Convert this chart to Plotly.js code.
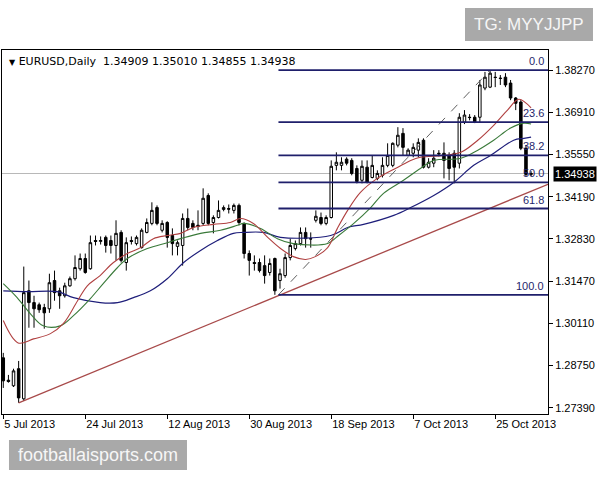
<!DOCTYPE html>
<html><head><meta charset="utf-8">
<script src="https://cdn.plot.ly/plotly-3.0.1.min.js"></script>
<style>html,body{margin:0;padding:0;background:#fff}#chart{width:600px;height:480px}</style>
</head><body><div id="chart"></div>
<script>
// ---- data ----
const openP  = [1.2900,1.2828,1.2810,1.2865,1.2768,1.3116,1.3078,1.3071,1.3062,1.3058,1.3149,1.3116,1.3100,1.3132,1.3155,1.3187,1.3220,1.3187,1.3278,1.3275,1.3288,1.3278,1.3262,1.3304,1.3207,1.3278,1.3268,1.3255,1.3304,1.3333,1.3384,1.3311,1.3336,1.3294,1.3259,1.3262,1.3349,1.3333,1.3327,1.3333,1.3423,1.3336,1.3352,1.3378,1.3381,1.3375,1.3391,1.3333,1.3236,1.3207,1.3207,1.3197,1.3175,1.3220,1.3149,1.3165,1.3223,1.3252,1.3268,1.3304,1.3284,1.3343,1.3352,1.3333,1.3352,1.3520,1.3520,1.3540,1.3536,1.3510,1.3472,1.3514,1.3481,1.3478,1.3488,1.3520,1.3520,1.3585,1.3623,1.3552,1.3559,1.3569,1.3601,1.3514,1.3527,1.3559,1.3559,1.3552,1.3559,1.3527,1.3659,1.3675,1.3675,1.3675,1.3769,1.3772,1.3804,1.3801,1.3804,1.3785,1.3737,1.3724,1.3575,1.34909];
const highP  = [1.2916,1.2845,1.2865,1.2890,1.3194,1.3149,1.3100,1.3078,1.3074,1.3171,1.3181,1.3126,1.3142,1.3162,1.3230,1.3236,1.3236,1.3294,1.3294,1.3291,1.3294,1.3294,1.3343,1.3311,1.3288,1.3291,1.3294,1.3317,1.3349,1.3401,1.3391,1.3343,1.3340,1.3317,1.3278,1.3365,1.3381,1.3343,1.3375,1.3446,1.3430,1.3359,1.3407,1.3391,1.3394,1.3397,1.3397,1.3336,1.3246,1.3230,1.3220,1.3230,1.3220,1.3223,1.3187,1.3236,1.3284,1.3278,1.3320,1.3320,1.3304,1.3375,1.3368,1.3359,1.3536,1.3562,1.3546,1.3546,1.3543,1.3520,1.3536,1.3536,1.3552,1.3504,1.3546,1.3591,1.3594,1.3643,1.3640,1.3575,1.3591,1.3607,1.3607,1.3543,1.3569,1.3569,1.3594,1.3562,1.3569,1.3688,1.3698,1.3685,1.3682,1.3795,1.3821,1.3827,1.3821,1.3811,1.3817,1.3795,1.3740,1.3730,1.3585,1.35010];
const lowP   = [1.2803,1.2820,1.2806,1.2755,1.2761,1.2997,1.2997,1.3045,1.2994,1.3045,1.3084,1.3058,1.3094,1.3129,1.3149,1.3181,1.3171,1.3184,1.3262,1.3265,1.3239,1.3236,1.3214,1.3207,1.3181,1.3265,1.3262,1.3252,1.3301,1.3327,1.3327,1.3304,1.3255,1.3230,1.3230,1.3197,1.3311,1.3311,1.3311,1.3327,1.3327,1.3301,1.3349,1.3372,1.3365,1.3365,1.3327,1.3220,1.3165,1.3181,1.3175,1.3139,1.3165,1.3103,1.3123,1.3158,1.3214,1.3246,1.3262,1.3255,1.3255,1.3336,1.3327,1.3327,1.3349,1.3504,1.3504,1.3520,1.3488,1.3462,1.3462,1.3462,1.3478,1.3472,1.3481,1.3514,1.3514,1.3578,1.3552,1.3549,1.3546,1.3546,1.3510,1.3510,1.3514,1.3549,1.3478,1.3472,1.3462,1.3510,1.3653,1.3665,1.3656,1.3659,1.3762,1.3769,1.3772,1.3779,1.3772,1.3730,1.3698,1.3569,1.3485,1.34855];
const closeP = [1.2826,1.2824,1.2858,1.2771,1.3110,1.3078,1.3058,1.3055,1.3045,1.3142,1.3110,1.3100,1.3132,1.3155,1.3191,1.3220,1.3175,1.3271,1.3275,1.3278,1.3262,1.3262,1.3301,1.3214,1.3271,1.3275,1.3288,1.3311,1.3336,1.3375,1.3333,1.3333,1.3288,1.3268,1.3271,1.3349,1.3320,1.3320,1.3323,1.3414,1.3333,1.3352,1.3375,1.3384,1.3379,1.3391,1.3336,1.3236,1.3214,1.3204,1.3181,1.3165,1.3204,1.3116,1.3171,1.3223,1.3262,1.3268,1.3304,1.3284,1.3283,1.3356,1.3333,1.3352,1.3517,1.3530,1.3530,1.3527,1.3494,1.3468,1.3517,1.3465,1.3520,1.3494,1.3520,1.3552,1.3591,1.3617,1.3578,1.3569,1.3578,1.3594,1.3514,1.3530,1.3543,1.3557,1.3536,1.3510,1.3514,1.3675,1.3682,1.3674,1.3659,1.3779,1.3804,1.3817,1.3803,1.3800,1.3779,1.3737,1.3720,1.3575,1.34909,1.34938];

const tickIdx    = [0, 16, 32, 48, 64, 80, 96];
const tickLabels = ['5 Jul 2013','24 Jul 2013','12 Aug 2013','30 Aug 2013','18 Sep 2013','7 Oct 2013','25 Oct 2013'];
const yTicks     = [1.38270,1.36910,1.35550,1.34190,1.32830,1.31470,1.30110,1.28750,1.27390];

const maRedX = [0,2.9,5.9,9.2,11.7,14.5,16.4,18.9,21.5,24.2,26.8,29.3,32.0,34.6,37.1,41.0,44.3,46.3,48.8,51.6,54.1,56.6,59.0,60.9,63.3,65.2,67.2,69.7,73.0,77.0,79.5,81.4,85.9,89.3,92.6,95.7,98.4,100.6,103];
const maRedY = [1.3020,1.2948,1.2961,1.2978,1.3010,1.3084,1.3132,1.3165,1.3207,1.3236,1.3255,1.3284,1.3294,1.3301,1.3320,1.3330,1.3336,1.3349,1.3333,1.3288,1.3252,1.3226,1.3217,1.3226,1.3255,1.3317,1.3375,1.3433,1.3478,1.3514,1.3536,1.3546,1.3552,1.3562,1.3601,1.3649,1.3698,1.3733,1.3705];
const maGreenX = [0,2.7,5.3,7.8,11.1,13.7,17.0,19.5,22.3,24.2,28.1,32.0,34.6,38.5,42.4,45.7,46.9,50.2,53.5,56.6,63.3,65.2,68.4,71.7,74.2,78.1,81.4,84.0,89.3,92.6,95.7,99.0,101.6,103];
const maGreenY = [1.3139,1.3094,1.3042,1.3003,1.3003,1.3036,1.3091,1.3139,1.3191,1.3220,1.3252,1.3271,1.3284,1.3301,1.3311,1.3327,1.3333,1.3317,1.3284,1.3268,1.3268,1.3291,1.3333,1.3384,1.3430,1.3472,1.3510,1.3536,1.3543,1.3569,1.3601,1.3640,1.3656,1.3653];
const maBlueX = [0,4.7,10.5,13.7,18.9,22.3,25.4,28.7,32.0,35.2,38.5,41.8,44.9,46.9,50.8,54.1,63.9,67.2,70.3,76.2,79.5,84.0,87.9,91.8,95.1,99.6,101.6,103];
const maBlueY = [1.3116,1.3113,1.3113,1.3094,1.3078,1.3078,1.3094,1.3116,1.3155,1.3207,1.3246,1.3278,1.3301,1.3304,1.3304,1.3288,1.3294,1.3320,1.3330,1.3359,1.3384,1.3423,1.3465,1.3520,1.3552,1.3601,1.3607,1.3611];

const trendX = [3, 106.3];
const trendY = [1.2755, 1.3459];
const fibAnchorX = [53.7, 95];
const fibAnchorY = [1.3103, 1.3827];
const fibLevels = ['0.0','23.6','38.2','50.0','61.8','100.0'];
const fibPrices = [1.3827, 1.3659, 1.3552, 1.3465, 1.3381, 1.3103];
const headerText = 'EURUSD,Daily  1.34909 1.35010 1.34855 1.34938';

// ---- chart ----
const xIdx = openP.map((_, i) => i);
const lastClose = closeP[closeP.length - 1];
const X0 = -0.25, X1 = 106.3;
const FIBC = '#1f1f6b';

const traces = [
  {type:'candlestick', x:xIdx, open:openP, high:highP, low:lowP, close:closeP,
   increasing:{line:{color:'#000', width:1}, fillcolor:'#fff'},
   decreasing:{line:{color:'#000', width:1}, fillcolor:'#000'},
   whiskerwidth:0, hoverinfo:'skip', showlegend:false},
  {type:'scatter', mode:'lines', x:maBlueX, y:maBlueY, line:{color:'#1e1e7a', width:1.2, shape:'spline'}, hoverinfo:'skip'},
  {type:'scatter', mode:'lines', x:maGreenX, y:maGreenY, line:{color:'#3a7a3a', width:1.1, shape:'spline'}, hoverinfo:'skip'},
  {type:'scatter', mode:'lines', x:maRedX, y:maRedY, line:{color:'#b04040', width:1.1, shape:'spline'}, hoverinfo:'skip'},
  {type:'scatter', mode:'lines', x:trendX, y:trendY, line:{color:'#a84a4a', width:1.3}, hoverinfo:'skip'},
  {type:'scatter', mode:'lines', x:fibAnchorX, y:fibAnchorY, line:{color:'#606060', width:1, dash:'dash'}, hoverinfo:'skip'}
];

const shapes = [
  {type:'line', xref:'x', yref:'y', x0:X0, x1:X1, y0:lastClose, y1:lastClose, line:{color:'#b8b8b8', width:1}, layer:'below'}
];
fibPrices.forEach(p => shapes.push({type:'line', xref:'x', yref:'y', x0:fibAnchorX[0], x1:X1, y0:p, y1:p, line:{color:FIBC, width:1.8}}));
shapes.push({type:'rect', xref:'paper', yref:'paper', x0:0.848, x1:1.0824, y0:1.0247, y1:1.1154, fillcolor:'#a9a9a9', line:{width:0}});
shapes.push({type:'rect', xref:'paper', yref:'paper', x0:0.0128, x1:0.3388, y0:-0.1538, y1:-0.0714, fillcolor:'#a9a9a9', line:{width:0}});

const annotations = [
  {xref:'paper', yref:'paper', x:0, y:1, xshift:5, yshift:-3, xanchor:'left', yanchor:'top', showarrow:false,
   text:'<span style="font-size:8px">▼</span> ' + headerText, font:{family:'DejaVu Sans', size:11, color:'#000'}},
  {xref:'paper', yref:'y', x:1, y:lastClose, xshift:5, xanchor:'left', yanchor:'middle', showarrow:false,
   text:lastClose.toFixed(5), bgcolor:'#000', borderpad:1, font:{family:'Liberation Sans', size:11, color:'#fff'}},
  {xref:'paper', yref:'paper', x:0.9652, y:1.0687, showarrow:false, xanchor:'center', yanchor:'middle',
   text:'TG: MYYJJPP', font:{family:'Liberation Sans', size:17, color:'#f6f6f6'}},
  {xref:'paper', yref:'paper', x:0.1758, y:-0.1126, showarrow:false, xanchor:'center', yanchor:'middle',
   text:'footballaisports.com', font:{family:'Liberation Sans', size:18, color:'#f6f6f6'}}
];
fibLevels.forEach((t, k) => annotations.push({xref:'paper', yref:'y', x:1, y:fibPrices[k], xshift:-2, yshift:1,
  xanchor:'right', yanchor:'bottom', showarrow:false, text:t, font:{family:'Liberation Sans', size:11, color:FIBC}}));

const layout = {
  width:600, height:480, margin:{l:2, r:52, t:50, b:66},
  paper_bgcolor:'#fff', plot_bgcolor:'#fff', showlegend:false, hovermode:false,
  xaxis:{range:[X0, X1], showgrid:false, zeroline:false, showline:true, mirror:true, linecolor:'#000', linewidth:1,
         ticks:'outside', ticklen:4, tickcolor:'#000', tickvals:tickIdx, ticktext:tickLabels,
         ticklabelposition:'outside right', tickfont:{family:'Liberation Sans', size:11, color:'#000'},
         rangeslider:{visible:false}, fixedrange:true},
  yaxis:{side:'right', range:[1.27191, 1.38916], showgrid:false, zeroline:false, showline:true, mirror:true,
         linecolor:'#000', linewidth:1, ticks:'outside', ticklen:4, tickcolor:'#000',
         tickvals:yTicks, ticktext:yTicks.map(v => v.toFixed(5)),
         tickfont:{family:'Liberation Sans', size:11, color:'#000'}, fixedrange:true},
  shapes:shapes, annotations:annotations
};
Plotly.newPlot('chart', traces, layout, {staticPlot:true, displayModeBar:false});
</script></body></html>
